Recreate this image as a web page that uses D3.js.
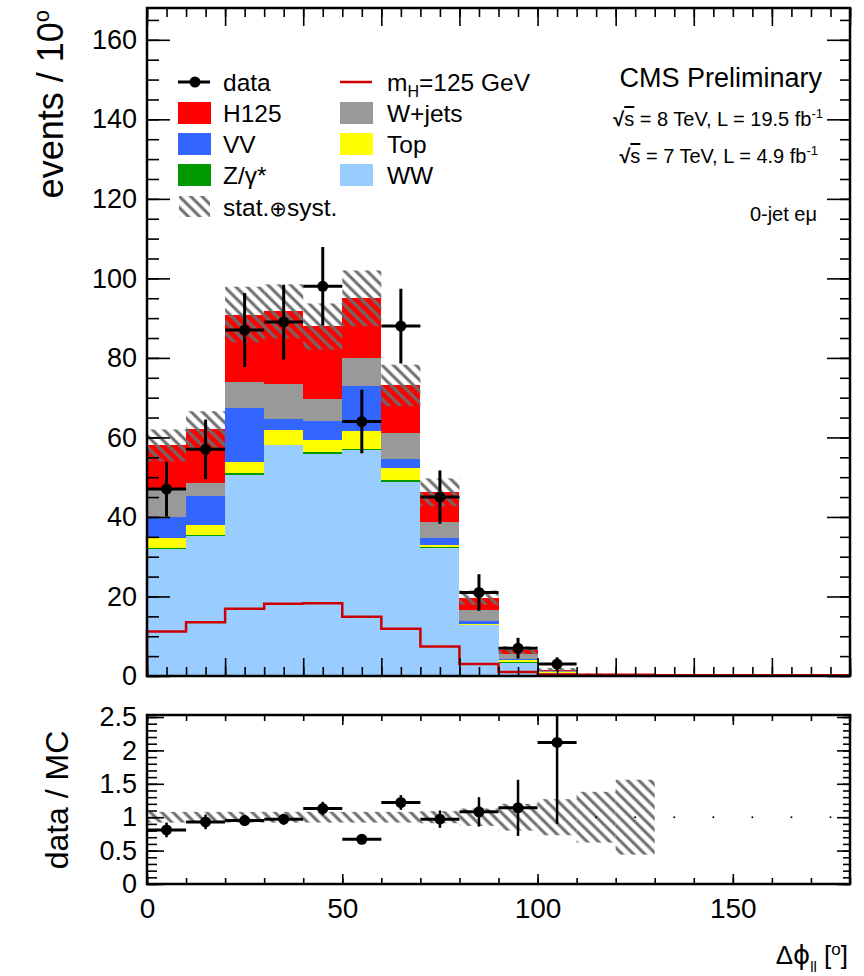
<!DOCTYPE html>
<html>
<head>
<meta charset="utf-8">
<script src="https://cdn.jsdelivr.net/npm/d3@7"></script>
<style>
body { margin: 0; background: #fff; }
svg { display: block; font-family: "Liberation Sans", Arial, Helvetica, sans-serif; }
</style>
</head>
<body>
<div id="chart"></div>
<script>
// lower edge of each 10 degree bin
const binLow = [0, 10, 20, 30, 40, 50, 60, 70, 80, 90, 100, 110, 120, 130, 140, 150, 160, 170];

// stacked MC, events per bin (bottom to top)
const ww    = [31.9, 35.3, 50.6, 58.0, 55.9, 56.9, 48.9, 32.1, 12.8, 3.3, 0.8, 0.2, 0.1, 0, 0, 0, 0, 0];
const zg    = [0.2, 0.1, 0.4, 0.2, 0.5, 0.2, 0.4, 0.3, 0.1, 0.1, 0, 0, 0, 0, 0, 0, 0, 0];
const topq  = [2.5, 2.7, 2.9, 3.7, 3.0, 4.4, 2.9, 0.6, 0.3, 0.6, 0.1, 0, 0, 0, 0, 0, 0, 0];
const vv    = [5.5, 7.2, 13.6, 2.7, 4.7, 11.5, 2.3, 1.8, 0.6, 0.2, 0.1, 0, 0, 0, 0, 0, 0, 0];
const wjets = [6.7, 3.2, 6.5, 8.9, 5.5, 7.1, 6.7, 4.0, 2.9, 1.3, 0.2, 0, 0, 0, 0, 0, 0, 0];
const h125  = [11.2, 13.5, 16.9, 18.2, 18.3, 14.9, 11.9, 7.4, 3.0, 1.0, 0.4, 0.3, 0.3, 0.2, 0.2, 0.2, 0.2, 0.2];
// stat+syst on the MC sum
const mcErr = [4.0, 4.6, 7.0, 6.8, 5.8, 7.0, 5.2, 3.5, 1.8, 1.0, 0.4, 0.12, 0.1];

// data
const dataVals = [47, 57, 87, 89, 98, 64, 88, 45, 21, 7, 3];
const dataErr  = [6.9, 7.5, 9.3, 9.4, 9.9, 8.0, 9.4, 6.7, 4.6, 2.6, 1.7];

// ratio pad
const ratioVals = [0.81, 0.93, 0.95, 0.97, 1.13, 0.67, 1.22, 0.97, 1.08, 1.14, 2.12, 1, 1, 1, 1, 1, 1, 1];
const ratioErr  = [0.11, 0.11, 0.08, 0.08, 0.1, 0.04, 0.11, 0.13, 0.22, 0.42, 1.22];
const ratioBand = [0.08, 0.08, 0.08, 0.08, 0.08, 0.08, 0.08, 0.09, 0.13, 0.2, 0.27, 0.38, 0.56];

// tick labels
const mainYTicks  = [0, 20, 40, 60, 80, 100, 120, 140, 160];
const mainXTicks  = [0, 20, 40, 60, 80, 100, 120, 140, 160, 180];
const ratioYTicks = [0, 0.5, 1, 1.5, 2, 2.5];
const ratioXTicks = [0, 50, 100, 150];

const W = 864, H = 976;
const main = {left: 147, right: 850, top: 8, bottom: 676};
const pad = {left: 147, right: 850, top: 715, bottom: 884};

const svg = d3.select("#chart").append("svg")
    .attr("width", W)
    .attr("height", H);

const x = d3.scaleLinear().domain([0, 180]).range([main.left, main.right]);
const y = d3.scaleLinear().domain([0, 168]).range([main.bottom, main.top]);
const yr = d3.scaleLinear().domain([0, 2.53]).range([pad.bottom, pad.top]);

const defs = svg.append("defs");
defs.append("pattern")
    .attr("id", "hatch")
    .attr("patternUnits", "userSpaceOnUse")
    .attr("width", 8).attr("height", 8)
    .attr("patternTransform", "rotate(-45)")
    .append("line")
    .attr("x1", 4).attr("y1", -1).attr("x2", 4).attr("y2", 9)
    .attr("stroke", "#6c6c6c").attr("stroke-width", 3);
defs.append("clipPath").attr("id", "padclip")
    .append("rect")
    .attr("x", pad.left).attr("y", pad.top)
    .attr("width", pad.right - pad.left).attr("height", pad.bottom - pad.top);

// ---------- main pad ----------
const keys = ["ww", "zg", "top", "vv", "wjets", "h125"];
const color = d3.scaleOrdinal()
    .domain(keys)
    .range(["#99ccff", "#009900", "#ffff00", "#3366ff", "#999999", "#ff0000"]);

const table = binLow.map((b, i) => ({
    bin: b, ww: ww[i], zg: zg[i], top: topq[i], vv: vv[i], wjets: wjets[i], h125: h125[i]
}));
const stacked = d3.stack().keys(keys)(table);

svg.append("g").selectAll("g")
    .data(stacked)
    .join("g")
    .attr("fill", d => color(d.key))
    .selectAll("rect")
    .data(d => d)
    .join("rect")
    .attr("shape-rendering", "crispEdges")
    .attr("x", d => x(d.data.bin))
    .attr("width", d => x(d.data.bin + 10) - x(d.data.bin))
    .attr("y", d => y(d[1]))
    .attr("height", d => y(d[0]) - y(d[1]));

const totals = table.map(d => keys.reduce((s, k) => s + d[k], 0));

// uncertainty band
svg.append("g").selectAll("rect")
    .data(mcErr)
    .join("rect")
    .attr("x", (e, i) => x(binLow[i]))
    .attr("width", (e, i) => x(binLow[i] + 10) - x(binLow[i]))
    .attr("y", (e, i) => y(totals[i] + e))
    .attr("height", (e, i) => y(totals[i] - e) - y(totals[i] + e))
    .attr("fill", "url(#hatch)");

// signal line
const sigPts = [[0, 0]].concat(binLow.map((b, i) => [b, h125[i]]), [[180, h125[h125.length - 1]]]);
svg.append("path")
    .datum(sigPts)
    .attr("fill", "none")
    .attr("stroke", "#cc0000")
    .attr("stroke-width", 2.5)
    .attr("d", d3.line().x(d => x(d[0])).y(d => y(d[1])).curve(d3.curveStepAfter));

// data points
const dataG = svg.append("g");
dataVals.forEach((v, i) => {
    const c = binLow[i] + 5;
    dataG.append("line")
        .attr("x1", x(binLow[i])).attr("x2", x(binLow[i] + 10))
        .attr("y1", y(v)).attr("y2", y(v))
        .attr("stroke", "#000").attr("stroke-width", 3);
    dataG.append("line")
        .attr("x1", x(c)).attr("x2", x(c))
        .attr("y1", y(v - dataErr[i])).attr("y2", y(v + dataErr[i]))
        .attr("stroke", "#000").attr("stroke-width", 3);
    dataG.append("circle")
        .attr("cx", x(c)).attr("cy", y(v)).attr("r", 5.5)
        .attr("fill", "#000");
});

function styleAxis(g, fs) {
    g.select(".domain").remove();
    g.selectAll(".tick line").attr("stroke", "#000").attr("stroke-width", 1.6);
    g.attr("font-family", null).attr("font-size", fs);
    g.selectAll("text").attr("fill", "#000");
}

// main axes, ticks pointing inward
svg.append("g").attr("transform", `translate(${main.left},0)`)
    .call(d3.axisLeft(y).tickValues(mainYTicks).tickSize(-23).tickPadding(10))
    .call(g => styleAxis(g, 27));
svg.append("g").attr("transform", `translate(${main.left},0)`)
    .call(d3.axisLeft(y).tickValues(d3.range(0, 168, 5)).tickSize(-12).tickFormat(""))
    .call(g => styleAxis(g, 27));
svg.append("g").attr("transform", `translate(${main.right},0)`)
    .call(d3.axisRight(y).tickValues(mainYTicks).tickSize(-23).tickFormat(""))
    .call(g => styleAxis(g, 27));
svg.append("g").attr("transform", `translate(${main.right},0)`)
    .call(d3.axisRight(y).tickValues(d3.range(0, 168, 5)).tickSize(-10).tickFormat(""))
    .call(g => styleAxis(g, 27));
svg.append("g").attr("transform", `translate(0,${main.bottom})`)
    .call(d3.axisBottom(x).tickValues(mainXTicks).tickSize(-18).tickFormat(""))
    .call(g => styleAxis(g, 27));
svg.append("g").attr("transform", `translate(0,${main.bottom})`)
    .call(d3.axisBottom(x).tickValues(d3.range(0, 181, 5)).tickSize(-9).tickFormat(""))
    .call(g => styleAxis(g, 27));
svg.append("g").attr("transform", `translate(0,${main.top})`)
    .call(d3.axisTop(x).tickValues(mainXTicks).tickSize(-18).tickFormat(""))
    .call(g => styleAxis(g, 27));
svg.append("g").attr("transform", `translate(0,${main.top})`)
    .call(d3.axisTop(x).tickValues(d3.range(0, 181, 5)).tickSize(-9).tickFormat(""))
    .call(g => styleAxis(g, 27));

svg.append("rect")
    .attr("x", main.left).attr("y", main.top)
    .attr("width", main.right - main.left).attr("height", main.bottom - main.top)
    .attr("fill", "none").attr("stroke", "#000").attr("stroke-width", 2.5);

// y title
const yt = svg.append("text")
    .attr("transform", "translate(63,10) rotate(-90)")
    .attr("text-anchor", "end")
    .attr("font-size", 36);
yt.append("tspan").text("events / 10");
yt.append("tspan").attr("font-size", 22).attr("dy", -14).text("o");

// legend
const leg = svg.append("g").attr("font-size", 24.5);
const legRowsL = [
    {label: "H125", key: "h125", y: 113},
    {label: "VV", key: "vv", y: 144},
    {label: "Z/γ*", key: "zg", y: 175}
];
const legRowsR = [
    {label: "W+jets", key: "wjets", y: 113},
    {label: "Top", key: "top", y: 144},
    {label: "WW", key: "ww", y: 175}
];
leg.append("line").attr("x1", 178).attr("x2", 210).attr("y1", 82).attr("y2", 82)
    .attr("stroke", "#000").attr("stroke-width", 3);
leg.append("circle").attr("cx", 195).attr("cy", 82).attr("r", 5.5).attr("fill", "#000");
leg.append("text").attr("x", 223).attr("y", 82).attr("dy", "0.35em").text("data");
legRowsL.forEach(r => {
    leg.append("rect").attr("x", 178).attr("y", r.y - 11).attr("width", 33).attr("height", 22)
        .attr("fill", color(r.key));
    leg.append("text").attr("x", 223).attr("y", r.y).attr("dy", "0.35em").text(r.label);
});
leg.append("rect").attr("x", 179).attr("y", 196).attr("width", 31).attr("height", 21)
    .attr("fill", "url(#hatch)");
const st = leg.append("text").attr("x", 223).attr("y", 207).attr("dy", "0.35em");
st.append("tspan").text("stat.");
st.append("tspan").attr("font-family", "DejaVu Sans").attr("font-size", 21).text("⊕");
st.append("tspan").text("syst.");

leg.append("line").attr("x1", 340).attr("x2", 372).attr("y1", 82).attr("y2", 82)
    .attr("stroke", "#cc0000").attr("stroke-width", 2.5);
const mh = leg.append("text").attr("x", 387).attr("y", 82).attr("dy", "0.35em");
mh.append("tspan").text("m");
mh.append("tspan").attr("font-size", 16).attr("dy", 6).text("H");
mh.append("tspan").attr("dy", -6).text("=125 GeV");
legRowsR.forEach(r => {
    leg.append("rect").attr("x", 340).attr("y", r.y - 11).attr("width", 33).attr("height", 22)
        .attr("fill", color(r.key));
    leg.append("text").attr("x", 387).attr("y", r.y).attr("dy", "0.35em").text(r.label);
});

// labels top right
svg.append("text").attr("x", 822).attr("y", 87).attr("text-anchor", "end")
    .attr("font-size", 27).text("CMS Preliminary");

function lumiText(yPos, xRight, energy, lumi) {
    const t = svg.append("text").attr("x", xRight).attr("y", yPos).attr("text-anchor", "end")
        .attr("font-size", 20);
    t.append("tspan").attr("font-weight", "bold").text("√");
    t.append("tspan").attr("text-decoration", "overline").text("s");
    t.append("tspan").text(` = ${energy} TeV, L = ${lumi} fb`);
    t.append("tspan").attr("font-size", 13).attr("dy", -8).text("-1");
}
lumiText(126, 823, 8, "19.5");
lumiText(163, 818, 7, "4.9");

svg.append("text").attr("x", 817).attr("y", 221).attr("text-anchor", "end")
    .attr("font-size", 20).text("0-jet eμ");

// ---------- ratio pad ----------
svg.append("g").attr("clip-path", "url(#padclip)").selectAll("rect")
    .data(ratioBand)
    .join("rect")
    .attr("x", (e, i) => x(binLow[i]))
    .attr("width", (e, i) => x(binLow[i] + 10) - x(binLow[i]))
    .attr("y", e => yr(1 + e))
    .attr("height", e => yr(1 - e) - yr(1 + e))
    .attr("fill", "url(#hatch)");

const rG = svg.append("g").attr("clip-path", "url(#padclip)");
ratioVals.forEach((v, i) => {
    const c = binLow[i] + 5;
    if (i >= ratioErr.length) {
        rG.append("circle").attr("cx", x(c)).attr("cy", yr(v)).attr("r", 1).attr("fill", "#000");
        return;
    }
    rG.append("line")
        .attr("x1", x(binLow[i])).attr("x2", x(binLow[i] + 10))
        .attr("y1", yr(v)).attr("y2", yr(v))
        .attr("stroke", "#000").attr("stroke-width", 3);
    rG.append("line")
        .attr("x1", x(c)).attr("x2", x(c))
        .attr("y1", yr(v - ratioErr[i])).attr("y2", yr(v + ratioErr[i]))
        .attr("stroke", "#000").attr("stroke-width", 2.5);
    rG.append("circle")
        .attr("cx", x(c)).attr("cy", yr(v)).attr("r", 5.5)
        .attr("fill", "#000");
});

svg.append("g").attr("transform", `translate(${pad.left},0)`)
    .call(d3.axisLeft(yr).tickValues(ratioYTicks).tickSize(-17).tickPadding(10).tickFormat(d => String(d)))
    .call(g => styleAxis(g, 27));
svg.append("g").attr("transform", `translate(${pad.left},0)`)
    .call(d3.axisLeft(yr).tickValues(d3.range(0, 2.55, 0.1)).tickSize(-10).tickFormat(""))
    .call(g => styleAxis(g, 27));
svg.append("g").attr("transform", `translate(${pad.right},0)`)
    .call(d3.axisRight(yr).tickValues(ratioYTicks).tickSize(-13).tickFormat(""))
    .call(g => styleAxis(g, 27));
svg.append("g").attr("transform", `translate(${pad.right},0)`)
    .call(d3.axisRight(yr).tickValues(d3.range(0, 2.55, 0.1)).tickSize(-7).tickFormat(""))
    .call(g => styleAxis(g, 27));
svg.append("g").attr("transform", `translate(0,${pad.bottom})`)
    .call(d3.axisBottom(x).tickValues(ratioXTicks).tickSize(-10).tickPadding(14))
    .call(g => styleAxis(g, 28));
svg.append("g").attr("transform", `translate(0,${pad.bottom})`)
    .call(d3.axisBottom(x).tickValues(d3.range(0, 181, 10)).tickSize(-6).tickFormat(""))
    .call(g => styleAxis(g, 28));
svg.append("g").attr("transform", `translate(0,${pad.top})`)
    .call(d3.axisTop(x).tickValues(ratioXTicks).tickSize(-10).tickFormat(""))
    .call(g => styleAxis(g, 28));
svg.append("g").attr("transform", `translate(0,${pad.top})`)
    .call(d3.axisTop(x).tickValues(d3.range(0, 181, 10)).tickSize(-6).tickFormat(""))
    .call(g => styleAxis(g, 28));

svg.append("rect")
    .attr("x", pad.left).attr("y", pad.top)
    .attr("width", pad.right - pad.left).attr("height", pad.bottom - pad.top)
    .attr("fill", "none").attr("stroke", "#000").attr("stroke-width", 2.5);

svg.append("text")
    .attr("transform", "translate(68,800) rotate(-90)")
    .attr("text-anchor", "middle")
    .attr("font-size", 32)
    .text("data / MC");

// x title
const xt = svg.append("text").attr("x", 848).attr("y", 964).attr("text-anchor", "end")
    .attr("font-size", 26);
xt.append("tspan").text("Δ");
xt.append("tspan").attr("font-family", "DejaVu Sans").text("ϕ");
xt.append("tspan").attr("font-size", 15).attr("dy", 8).text("ll");
xt.append("tspan").attr("dy", -8).text(" [");
xt.append("tspan").attr("font-size", 17).attr("dy", -9).text("o");
xt.append("tspan").attr("dy", 9).text("]");
</script>
</body>
</html>
